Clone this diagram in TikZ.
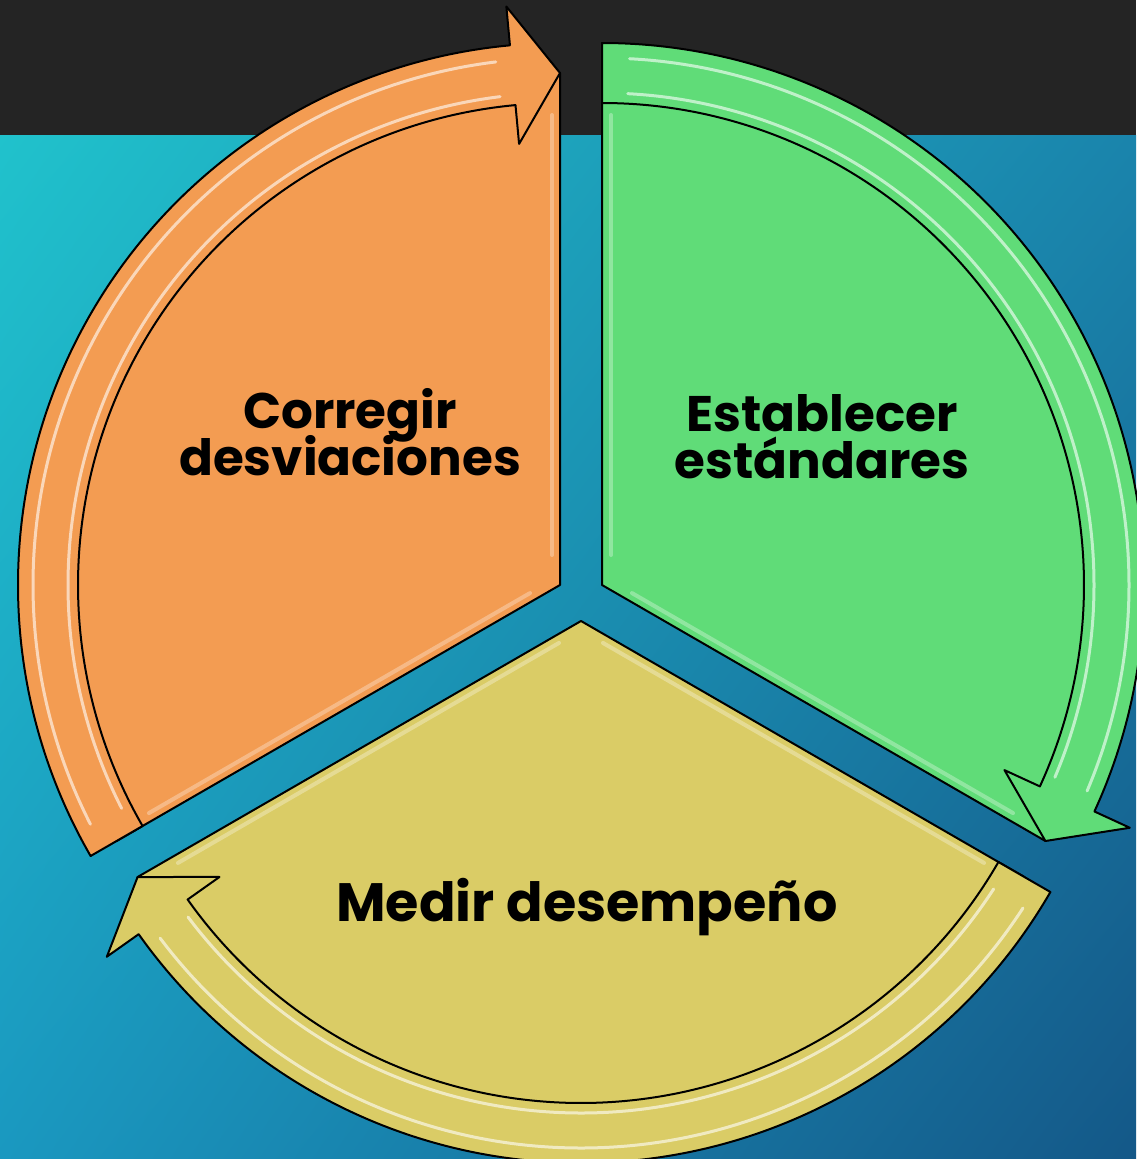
\documentclass[tikz,border=0pt]{standalone}
\usepackage{fontspec}
\newfontfamily\popfont{Poppins Bold}
\usetikzlibrary{calc,shadings}
\definecolor{orng}{HTML}{F39C52}
\definecolor{grn}{HTML}{60DC78}
\definecolor{ylw}{HTML}{DACC66}
\definecolor{band}{HTML}{242424}
\definecolor{bgUL}{HTML}{20C2CC}
\definecolor{bgUR}{HTML}{1A84AC}
\definecolor{bgLL}{HTML}{1A98C0}
\definecolor{bgLR}{HTML}{145888}
\newcommand{\lblfont}{\popfont\fontsize{50}{47}\selectfont\lineskiplimit=-60pt\relax}
\newcommand{\bigfont}{\popfont\fontsize{54}{47}\selectfont}
\tikzset{
  outl/.style={draw=black, line width=2pt, line join=round},
  shine/.style={draw=white, line width=3pt, opacity=0.6, line cap=round},
  bevel/.style={draw=white, line width=4pt, opacity=0.3, line cap=round},
  lbl/.style={font=\lblfont, inner sep=0pt, anchor=center, text=black, align=center},
}
% radii
\def\Rin{482pt}
\def\Rout{542pt}
\def\Rmid{512pt}
\def\Rhout{581pt}
\def\Rhin{443pt}
\def\Rsa{492pt}
\def\Rsb{527pt}
% #1 colour, #2 start, #3 end (tip), #4 back of head
\newcommand{\cyclepiece}[4]{%
  \path[outl, fill=#1] (0,0) -- (#3:\Rmid) arc[start angle=#3, end angle=#2, radius=\Rmid] -- cycle;
  \path[outl, fill=#1] (#2:\Rout) arc[start angle=#2, end angle=#4, radius=\Rout]
     -- (#4:\Rhout) -- (#3:\Rmid) -- (#4:\Rhin) -- (#4:\Rin)
     arc[start angle=#4, end angle=#2, radius=\Rin] -- cycle;
}
\begin{document}
\begin{tikzpicture}[x=1pt,y=1pt]
\useasboundingbox (0,0) rectangle (1136,-1159);
\shade[upper left=bgUL, upper right=bgUR, lower left=bgLL, lower right=bgLR] (0,-135) rectangle (1136,-1159);
\fill[band] (0,0) rectangle (1136,-135);
% orange: corregir
\begin{scope}[shift={(560,-585)}]
  \cyclepiece{orng}{210}{90}{95.3}
  \draw[bevel] ($(90:30pt)+(180:8pt)$) -- ($(90:470pt)+(180:8pt)$);
  \draw[bevel] ($(210:30pt)+(120:8pt)$) -- ($(210:470pt)+(120:8pt)$);
  \draw[shine] (207:\Rsa) arc[start angle=207, end angle=97, radius=\Rsa];
  \draw[shine] (207:\Rsb) arc[start angle=207, end angle=97, radius=\Rsb];
\end{scope}
% green: establecer
\begin{scope}[shift={(602,-585)}]
  \cyclepiece{grn}{90}{-30}{-24.7}
  \draw[bevel] ($(90:30pt)+(0:9pt)$) -- ($(90:470pt)+(0:9pt)$);
  \draw[bevel] ($(-30:30pt)+(60:8pt)$) -- ($(-30:470pt)+(60:8pt)$);
  \draw[shine] (87:\Rsa) arc[start angle=87, end angle=-23, radius=\Rsa];
  \draw[shine] (87:\Rsb) arc[start angle=87, end angle=-23, radius=\Rsb];
\end{scope}
% yellow: medir
\begin{scope}[shift={(581,-621)}]
  \cyclepiece{ylw}{330}{210}{215.3}
  \draw[bevel] ($(210:30pt)+(300:8pt)$) -- ($(210:470pt)+(300:8pt)$);
  \draw[bevel] ($(330:30pt)+(240:8pt)$) -- ($(330:470pt)+(240:8pt)$);
  \draw[shine] (327:\Rsa) arc[start angle=327, end angle=217, radius=\Rsa];
  \draw[shine] (327:\Rsb) arc[start angle=327, end angle=217, radius=\Rsb];
\end{scope}
\node[lbl] (c1) at (350,-432) {Corregir\\desviaciones};
\node[lbl] (e1) at (822,-437) {Establecer\\estándares};
\node[lbl, font=\bigfont] (m1) at (587,-907) {Medir desempeño};
\end{tikzpicture}
\end{document}
